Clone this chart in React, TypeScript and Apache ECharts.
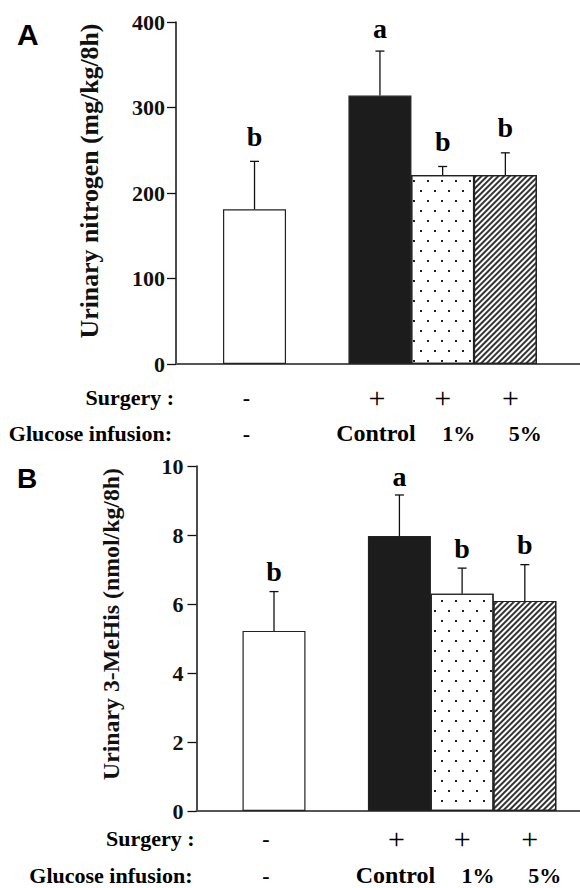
import React, { useEffect, useRef } from "react";
import * as echarts from "echarts";

// ---- data ----
const groups = ["Sham", "Control", "Glucose 1%", "Glucose 5%"];
const groupSlot = [0, 2, 3, 4]; // order on the axis (one empty slot after Sham)
const surgeryLabels = ["-", "+", "+", "+"];
const glucoseLabels = ["-", "Control", "1%", "5%"];

const nitrogenMean = [181, 314, 221, 221];
const nitrogenErr = [56, 52, 10, 26];
const nitrogenLetters = ["b", "a", "b", "b"];
const nitrogenMax = 400;
const nitrogenStep = 100;

const mehisMean = [5.22, 7.97, 6.3, 6.09];
const mehisErr = [1.14, 1.19, 0.74, 1.05];
const mehisLetters = ["b", "a", "b", "b"];
const mehisMax = 10;
const mehisStep = 2;

// ---- styles ----
const SERIF = "Liberation Serif";
const SANS = "Liberation Sans";
const INK = "#111";

const dotDecal = {
  symbol: "rect",
  symbolSize: 1,
  color: "#222",
  backgroundColor: "#fff",
  dashArrayX: [[1.6, 11.4], [0, 6.5, 1.6, 4.9]],
  dashArrayY: [1.6, 7.4],
};
const hatchDecal = {
  symbol: "rect",
  symbolSize: 1,
  color: "#333",
  backgroundColor: "#fff",
  dashArrayX: [1, 0],
  dashArrayY: [1.1, 1.5],
  rotation: -Math.PI / 4,
};
const barLook = [
  { color: "#fff" },
  { color: "#1c1c1c" },
  { color: "#fff", decal: dotDecal },
  { color: "#fff", decal: hatchDecal },
];
const surgeryNudge = [-8, -3, 0, 5];
const glucoseNudge = [-8, -4, 16, 20];

type Panel = {
  mean: number[];
  err: number[];
  letters: string[];
  max: number;
  step: number;
  title: string;
  titleSize: number;
  grid: { left: number; top: number; height: number };
  xMin: number;
  xMax: number;
  letterGap: number;
  rowY: [number, number];
  titleShift: number;
  labelMargin: number;
};

const panels: Panel[] = [
  {
    mean: nitrogenMean,
    err: nitrogenErr,
    letters: nitrogenLetters,
    max: nitrogenMax,
    step: nitrogenStep,
    title: "Urinary nitrogen (mg/kg/8h)",
    titleSize: 25.8,
    grid: { left: 176, top: 22, height: 342 },
    xMin: -1.252,
    xMax: 5.19,
    letterGap: 25,
    rowY: [33, 69],
    titleShift: 24,
    labelMargin: 11,
  },
  {
    mean: mehisMean,
    err: mehisErr,
    letters: mehisLetters,
    max: mehisMax,
    step: mehisStep,
    title: "Urinary 3-MeHis (nmol/kg/8h)",
    titleSize: 23.8,
    grid: { left: 196.5, top: 466, height: 345 },
    xMin: -1.236,
    xMax: 4.88,
    letterGap: 20,
    rowY: [27, 64],
    titleShift: 29,
    labelMargin: 13,
  },
];

function buildOption() {
  const grid: any[] = [];
  const xAxis: any[] = [];
  const yAxis: any[] = [];
  const series: any[] = [];

  panels.forEach((p, pi) => {
    grid.push({ left: p.grid.left, top: p.grid.top, height: p.grid.height, right: 0, containLabel: false });
    xAxis.push({
      type: "value",
      gridIndex: pi,
      min: p.xMin,
      max: p.xMax,
      axisLine: { show: true, onZero: false, lineStyle: { color: "#555", width: 2 } },
      axisTick: { show: false },
      axisLabel: { show: false },
      splitLine: { show: false },
    });
    yAxis.push({
      type: "value",
      gridIndex: pi,
      min: 0,
      max: p.max,
      interval: p.step,
      name: p.title,
      nameLocation: "middle",
      nameRotate: 90,
      nameGap: 74,
      nameTextStyle: {
        fontFamily: SERIF,
        fontWeight: "bold",
        fontSize: p.titleSize,
        color: INK,
        padding: [0, 0, 0, p.titleShift],
      },
      axisLine: { show: true, onZero: false, lineStyle: { color: INK, width: 1.5 } },
      axisTick: { show: true, length: 9, lineStyle: { color: INK, width: 1.3 } },
      axisLabel: {
        show: true,
        margin: p.labelMargin,
        fontFamily: SERIF,
        fontWeight: "bold",
        fontSize: 22,
        color: INK,
      },
      splitLine: { show: false },
    });

    series.push({
      type: "bar",
      xAxisIndex: pi,
      yAxisIndex: pi,
      barWidth: 63,
      data: groups.map((g, i) => ({
        name: g,
        value: [groupSlot[i], p.mean[i]],
        itemStyle: { ...barLook[i], borderColor: "#222", borderWidth: 1.2 },
      })),
      z: 2,
    });

    series.push({
      type: "custom",
      xAxisIndex: pi,
      yAxisIndex: pi,
      encode: { x: 0, y: 1 },
      data: groups.map((g, i) => [groupSlot[i], p.mean[i], p.err[i]]),
      z: 3,
      renderItem: (params: any, api: any) => {
        const x = api.value(0);
        const m = api.value(1);
        const s = api.value(2);
        const a = api.coord([x, m]);
        const b = api.coord([x, m + s]);
        const letter = p.letters[params.dataIndex];
        return {
          type: "group",
          children: [
            { type: "line", shape: { x1: a[0], y1: a[1], x2: b[0], y2: b[1] }, style: { stroke: INK, lineWidth: 1.3 } },
            { type: "line", shape: { x1: b[0] - 4.5, y1: b[1], x2: b[0] + 4.5, y2: b[1] }, style: { stroke: INK, lineWidth: 1.3 } },
            {
              type: "text",
              x: b[0],
              y: b[1] - p.letterGap + (letter === "a" ? 2 : 0),
              style: {
                text: letter,
                fill: "#000",
                fontFamily: SERIF,
                fontWeight: "bold",
                fontSize: 28,
                align: "center",
                verticalAlign: "middle",
              },
            },
          ],
        };
      },
    });

    series.push({
      type: "custom",
      xAxisIndex: pi,
      yAxisIndex: pi,
      encode: { x: 0, y: 1 },
      data: groups.map((g, i) => [groupSlot[i], 0]),
      z: 3,
      renderItem: (params: any, api: any) => {
        const i = params.dataIndex;
        const c = api.coord([api.value(0), 0]);
        const sLab = surgeryLabels[i];
        return {
          type: "group",
          children: [
            {
              type: "text",
              x: c[0] + surgeryNudge[i],
              y: c[1] + p.rowY[0],
              style: {
                text: sLab,
                fill: "#000",
                fontFamily: SERIF,
                fontWeight: sLab === "+" ? "normal" : "bold",
                fontSize: sLab === "+" ? 30 : 22,
                align: "center",
                verticalAlign: "middle",
              },
            },
            {
              type: "text",
              x: c[0] + glucoseNudge[i],
              y: c[1] + p.rowY[1],
              style: {
                text: glucoseLabels[i],
                fill: "#000",
                fontFamily: SERIF,
                fontWeight: "bold",
                fontSize: i === 1 ? 24 : 22,
                align: "center",
                verticalAlign: "middle",
              },
            },
          ],
        };
      },
    });
  });

  const rowTitle = (text: string, x: number, y: number) => ({
    type: "text",
    x,
    y,
    style: {
      text,
      fill: "#000",
      fontFamily: SERIF,
      fontWeight: "bold",
      fontSize: 22,
      align: "right",
      verticalAlign: "middle",
    },
  });

  const graphic: any[] = [
    { type: "text", x: 17, y: 34, style: { text: "A", fill: "#000", fontFamily: SANS, fontWeight: "bold", fontSize: 30, align: "left", verticalAlign: "middle" } },
    { type: "text", x: 17, y: 478, style: { text: "B", fill: "#000", fontFamily: SANS, fontWeight: "bold", fontSize: 28, align: "left", verticalAlign: "middle" } },
  ];
  panels.forEach((p) => {
    const base = p.grid.top + p.grid.height;
    graphic.push(rowTitle("Surgery :", p.grid.left - 2, base + p.rowY[0]));
    graphic.push(rowTitle("Glucose infusion:", p.grid.left - 4, base + p.rowY[1]));
  });

  return {
    animation: false,
    backgroundColor: "#fff",
    grid,
    xAxis,
    yAxis,
    series,
    graphic,
  };
}

export default function App() {
  const ref = useRef<HTMLDivElement>(null);
  useEffect(() => {
    if (!ref.current) return;
    const chart = echarts.init(ref.current, undefined, { renderer: "svg" });
    chart.setOption(buildOption() as any);
    return () => chart.dispose();
  }, []);
  return <div ref={ref} style={{ position: "absolute", left: 0, top: 0, width: 580, height: 888 }} />;
}
